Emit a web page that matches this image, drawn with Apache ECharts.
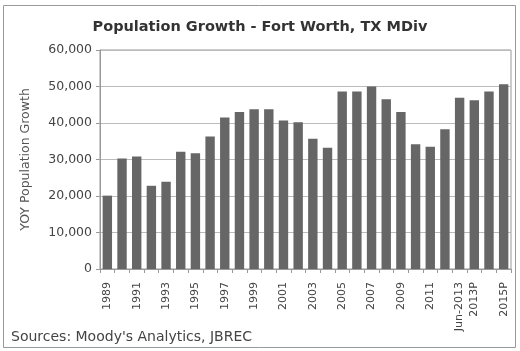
<!DOCTYPE html>
<html>
<head>
<meta charset="utf-8">
<script src="https://cdn.jsdelivr.net/npm/echarts@6/dist/echarts.min.js"></script>
<style>html,body{margin:0;padding:0;background:#fff;}#c{width:520px;height:351px;}</style>
</head>
<body>
<div id="c"></div>
<script>
const categories = ['1989','1990','1991','1992','1993','1994','1995','1996','1997','1998','1999','2000','2001','2002','2003','2004','2005','2006','2007','2008','2009','2010','2011','2012','Jun-2013','2013P','2014P','2015P'];
const growth = [20100,30300,30800,22800,23900,32100,31700,36300,41500,43000,43800,43800,40700,40200,35700,33200,48600,48600,50000,46500,43000,34200,33500,38300,46900,46200,48600,50600];
const yTicks = [0,10000,20000,30000,40000,50000,60000];
const shownLabels = ['1989','1991','1993','1995','1997','1999','2001','2003','2005','2007','2009','2011','Jun-2013','2013P','2015P'];

const FONT = 'DejaVu Sans';
const chart = echarts.init(document.getElementById('c'), null, {renderer:'canvas'});
chart.setOption({
  animation: false,
  backgroundColor: '#fff',
  title: {
    text: 'Population Growth - Fort Worth, TX MDiv',
    left: 'center', top: 15,
    textStyle: {fontFamily: 'DejaVu Sans', fontWeight: 'bold', fontSize: 14.5, color: '#333'}
  },
  graphic: [
    {type: 'rect', shape: {x: 3.5, y: 5.5, width: 512, height: 342}, style: {fill: 'none', stroke: '#999', lineWidth: 1}, z: -1},
    {type: 'text', left: 11, top: 330, style: {text: "Sources: Moody's Analytics, JBREC", fontFamily: FONT, fontSize: 14, fill: '#444'}}
  ],
  grid: {left: 100, right: 9, top: 50, bottom: 82, show: true, borderColor: '#999', borderWidth: 1},
  xAxis: {
    type: 'category',
    data: categories,
    axisLine: {lineStyle: {color: '#999'}},
    axisTick: {show: true, alignWithLabel: false, interval: 0, length: 4, lineStyle: {color: '#999'}},
    axisLabel: {
      rotate: 90, fontFamily: FONT, fontSize: 11, color: '#444', margin: 13,
      interval: function (i, v) { return shownLabels.indexOf(v) >= 0; }
    }
  },
  yAxis: {
    type: 'value',
    min: yTicks[0], max: yTicks[yTicks.length - 1], interval: 10000,
    name: 'YOY Population Growth',
    nameLocation: 'middle', nameGap: 68, nameRotate: 90,
    nameTextStyle: {fontFamily: FONT, fontSize: 12.5, color: '#555'},
    axisLine: {show: true, lineStyle: {color: '#999'}},
    axisTick: {show: true, length: 4, lineStyle: {color: '#999'}},
    splitLine: {lineStyle: {color: '#bbb', width: 1}},
    axisLabel: {
      fontFamily: FONT, fontSize: 12.5, color: '#444', margin: 8,
      formatter: function (v) { return v.toLocaleString('en-US'); }
    }
  },
  series: [{
    type: 'bar',
    data: growth,
    barCategoryGap: '36%',
    itemStyle: {color: '#666666'}
  }]
});
</script>
</body>
</html>
